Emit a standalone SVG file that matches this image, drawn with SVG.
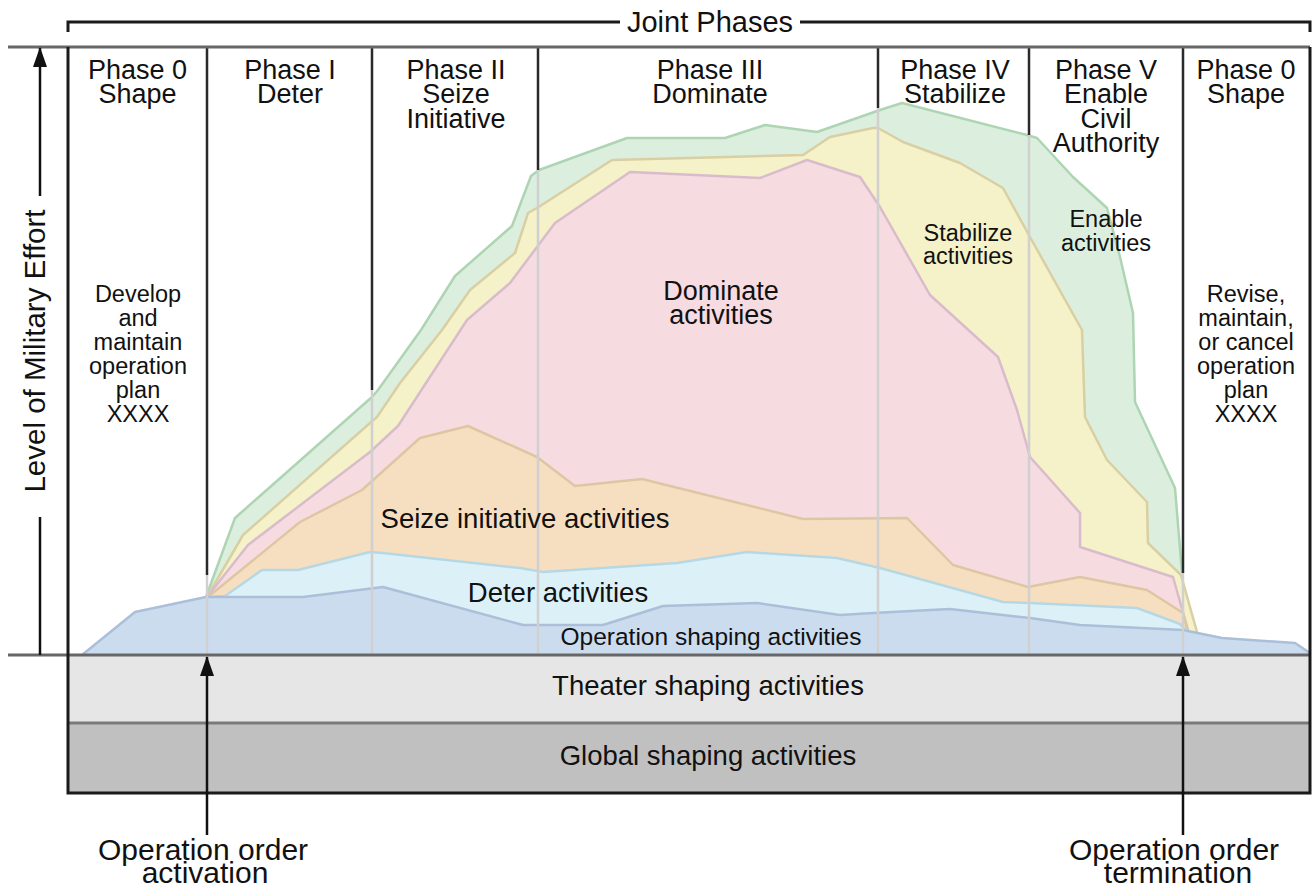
<svg xmlns="http://www.w3.org/2000/svg" width="1313" height="888" viewBox="0 0 1313 888">
<style>
text{font-family:"Liberation Sans",Arial,sans-serif;fill:#111;text-anchor:middle}
.h{font-size:27px}
.n{font-size:23.5px}
.b{font-size:30px}
.frame{stroke:#1a1a1a;stroke-width:3;fill:none}
.div{stroke:#2a2a2a;stroke-width:2.5}
.gl{stroke:#d0d0d0;stroke-width:2.5}
.ax{stroke:#676767;stroke-width:3}
.ln{fill:none;stroke-width:2.5;stroke-linejoin:round}
.conn{stroke:#111;stroke-width:2.5;fill:none}
</style>
<defs>
<marker id="ah" markerUnits="userSpaceOnUse" markerWidth="20" markerHeight="14" viewBox="0 0 20 14" refX="19" refY="7" orient="auto">
<path d="M0,0 L20,7 L0,14 Z" fill="#111"/>
</marker>
</defs>
<rect x="0" y="0" width="1313" height="888" fill="#fff"/>
<g id="theater-row"><rect x="68" y="655" width="1242" height="68" fill="#e6e6e6"/><text x="708" y="695" font-size="27.5">Theater shaping activities</text></g>
<g id="global-row"><rect x="68" y="723" width="1242" height="70" fill="#c0c0c0"/><text x="708" y="765" font-size="27.5">Global shaping activities</text></g>
<g id="enable-area">
<path fill="#dcefdf" d="M206,597 L235,518 L372,397 L378,390 L421,330 L455,276 L512,226 L531,176 L539,170 L627,138 L725,138 L765,125 L817,132 L880,110 L902,103 L1027,135 L1037,138 L1073,177 L1107,208 L1120,257 L1133,313 L1135,402 L1175,488 L1182,573 L1182,655 L206,655 Z"/>
<polyline class="ln" stroke="#aed5b3" points="206,597 235,518 372,397 378,390 421,330 455,276 512,226 531,176 539,170 627,138 725,138 765,125 817,132 880,110 902,103 1027,135 1037,138 1073,177 1107,208 1120,257 1133,313 1135,402 1175,488 1182,573"/>
</g>
<g id="stabilize-area">
<path fill="#f5f1c8" d="M207,597 L243,535 L370,423 L377,417 L400,383 L442,330 L470,290 L515,253 L528,213 L537,208 L612,160 L803,155 L830,137 L873,128 L878,128 L903,142 L960,163 L1003,188 L1030,237 L1082,330 L1085,417 L1107,460 L1147,502 L1148,543 L1181,575 L1197,632 L1197,655 L207,655 Z"/>
<polyline class="ln" stroke="#dacfa2" points="207,597 243,535 370,423 377,417 400,383 442,330 470,290 515,253 528,213 537,208 612,160 803,155 830,137 873,128 878,128 903,142 960,163 1003,188 1030,237 1082,330 1085,417 1107,460 1147,502 1148,543 1181,575 1197,632"/>
</g>
<g id="dominate-area">
<path fill="#f6dce1" d="M207,597 L248,545 L370,452 L398,426 L467,320 L510,283 L540,243 L555,223 L630,172 L760,178 L807,160 L860,177 L880,207 L930,295 L998,357 L1017,410 L1030,457 L1080,513 L1080,547 L1173,577 L1188,630 L1188,655 L207,655 Z"/>
<polyline class="ln" stroke="#d9bccb" points="207,597 248,545 370,452 398,426 467,320 510,283 540,243 555,223 630,172 760,178 807,160 860,177 880,207 930,295 998,357 1017,410 1030,457 1080,513 1080,547 1173,577 1188,630"/>
</g>
<g id="seize-area">
<path fill="#f6dfc0" d="M208,597 L300,522 L362,490 L420,438 L468,426 L537,457 L575,486 L642,479 L803,519 L907,518 L953,565 L1028,587 L1080,577 L1147,590 L1183,613 L1187,629 L1187,655 L208,655 Z"/>
<polyline class="ln" stroke="#dec6a3" points="208,597 300,522 362,490 420,438 468,426 537,457 575,486 642,479 803,519 907,518 953,565 1028,587 1080,577 1147,590 1183,613 1187,629"/>
</g>
<g id="deter-area">
<path fill="#dcf0f8" d="M210,597 L225,596 L262,570 L298,570 L370,552 L383,553 L520,568 L543,572 L603,568 L677,563 L747,552 L837,558 L880,568 L1003,602 L1030,603 L1137,608 L1180,624 L1186,630 L1186,655 L210,655 Z"/>
<polyline class="ln" stroke="#b6d8e4" points="210,597 225,596 262,570 298,570 370,552 383,553 520,568 543,572 603,568 677,563 747,552 837,558 880,568 1003,602 1030,603 1137,608 1180,624 1186,630"/>
</g>
<g id="operation-area">
<path fill="#ccdcef" d="M82,655 L135,612 L206,597 L303,597 L383,587 L523,625 L603,625 L663,606 L757,603 L840,615 L873,613 L950,609 L1030,618 L1080,625 L1183,630 L1222,638 L1295,643 L1310,653 L1310,655 Z"/>
<polyline class="ln" stroke="#abbfd9" points="82,655 135,612 206,597 303,597 383,587 523,625 603,625 663,606 757,603 840,615 873,613 950,609 1030,618 1080,625 1183,630 1222,638 1295,643 1310,653"/>
</g>
<g id="divider-grey">
<line class="gl" x1="207" y1="575" x2="207" y2="655"/>
<line class="gl" x1="372" y1="390" x2="372" y2="655"/>
<line class="gl" x1="538" y1="170" x2="538" y2="655"/>
<line class="gl" x1="878" y1="108" x2="878" y2="655"/>
<line class="gl" x1="1029" y1="135" x2="1029" y2="655"/>
<line class="gl" x1="1183" y1="573" x2="1183" y2="655"/>
</g>
<g id="area-labels">
<text x="711" y="645" font-size="24.5">Operation shaping activities</text>
<text x="558" y="602" font-size="27.5">Deter activities</text>
<text x="525" y="528" font-size="27.5">Seize initiative activities</text>
<text x="721" y="300" font-size="27">Dominate<tspan x="721" dy="24">activities</tspan></text>
<text class="n" x="968" y="241">Stabilize<tspan x="968" dy="23">activities</tspan></text>
<text class="n" x="1106" y="227">Enable<tspan x="1106" dy="24">activities</tspan></text>
</g>
<g id="phase-0-shape">
<line class="div" x1="207" y1="47" x2="207" y2="575"/>
<text class="h" x="137.5" y="79">Phase 0<tspan x="137.5" dy="24">Shape</tspan></text>
<text class="n" x="138" y="302">Develop<tspan x="138" dy="24">and</tspan><tspan x="138" dy="24">maintain</tspan><tspan x="138" dy="24">operation</tspan><tspan x="138" dy="24">plan</tspan><tspan x="138" dy="24">XXXX</tspan></text>
</g>
<g id="phase-1-deter">
<line class="div" x1="372" y1="47" x2="372" y2="390"/>
<text class="h" x="290" y="79">Phase I<tspan x="290" dy="24">Deter</tspan></text>
</g>
<g id="phase-2-seize">
<line class="div" x1="538" y1="47" x2="538" y2="170"/>
<text class="h" x="456" y="79">Phase II<tspan x="456" dy="24">Seize</tspan><tspan x="456" dy="25">Initiative</tspan></text>
</g>
<g id="phase-3-dominate">
<line class="div" x1="878" y1="47" x2="878" y2="108"/>
<text class="h" x="710" y="79">Phase III<tspan x="710" dy="24">Dominate</tspan></text>
</g>
<g id="phase-4-stabilize">
<line class="div" x1="1029" y1="47" x2="1029" y2="135"/>
<text class="h" x="955" y="79">Phase IV<tspan x="955" dy="24">Stabilize</tspan></text>
</g>
<g id="phase-5-enable">
<line class="div" x1="1183" y1="47" x2="1183" y2="573"/>
<text class="h" x="1106" y="79">Phase V<tspan x="1106" dy="24">Enable</tspan><tspan x="1106" dy="25">Civil</tspan><tspan x="1106" dy="24">Authority</tspan></text>
</g>
<g id="phase-0-shape-end">
<text class="h" x="1246" y="79">Phase 0<tspan x="1246" dy="24">Shape</tspan></text>
<text class="n" x="1246" y="302">Revise,<tspan x="1246" dy="24">maintain,</tspan><tspan x="1246" dy="24">or cancel</tspan><tspan x="1246" dy="24">operation</tspan><tspan x="1246" dy="24">plan</tspan><tspan x="1246" dy="24">XXXX</tspan></text>
</g>
<g id="frame">
<line class="ax" x1="8" y1="47" x2="1310" y2="47"/>
<line class="ax" x1="8" y1="655" x2="1310" y2="655"/>
<line x1="68" y1="723" x2="1310" y2="723" stroke="#7a7a7a" stroke-width="3"/>
<path class="frame" d="M68,47 V793 H1310 V47"/>
</g>
<g id="joint-phases">
<path class="frame" d="M68,32 V22 H620 M800,22 H1310 V32"/>
<text x="710" y="32" font-size="29">Joint Phases</text>
</g>
<g id="effort-axis">
<text x="0" y="0" font-size="29.5" transform="translate(45,351) rotate(-90)">Level of Military Effort</text>
</g>
<g id="connectors">
<line class="conn" x1="40" y1="196" x2="40" y2="48" marker-end="url(#ah)"/>
<line class="conn" x1="40" y1="517" x2="40" y2="655"/>
<line class="conn" x1="207" y1="835" x2="207" y2="657" marker-end="url(#ah)"/>
<line class="conn" x1="1183" y1="835" x2="1183" y2="657" marker-end="url(#ah)"/>
</g>
<g id="activation-label">
<text class="b" x="203" y="860">Operation order<tspan x="205" dy="23">activation</tspan></text>
</g>
<g id="termination-label">
<text class="b" x="1174" y="860">Operation order<tspan x="1178" dy="23">termination</tspan></text>
</g>
</svg>
